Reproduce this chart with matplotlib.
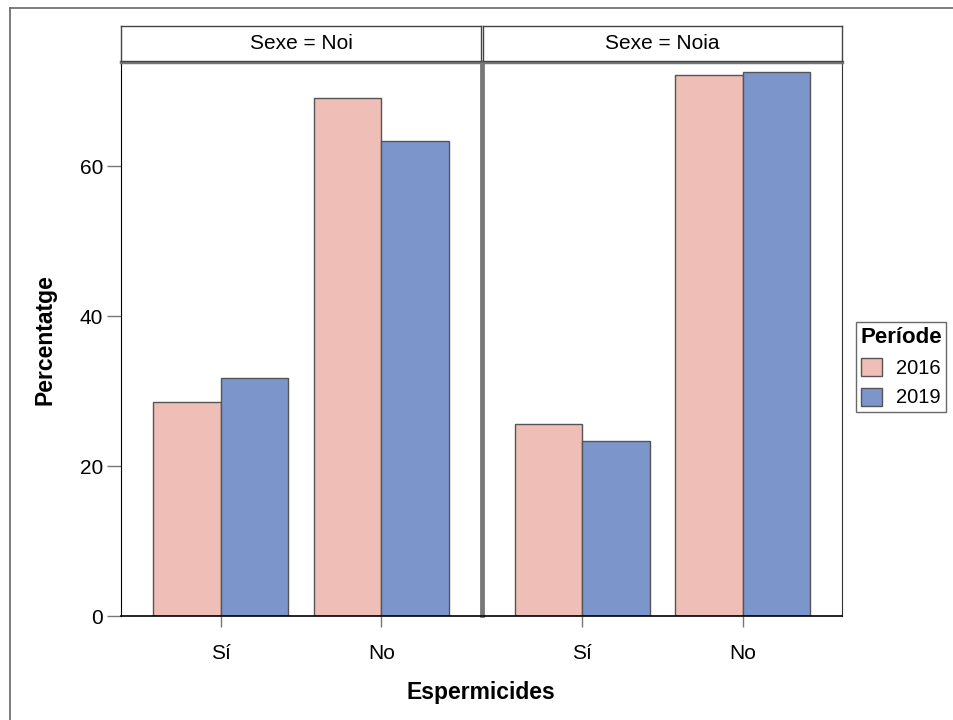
import matplotlib
matplotlib.use('Agg')
import matplotlib.pyplot as plt
from matplotlib.lines import Line2D
from matplotlib.patches import Patch
import numpy as np

plt.rcParams['font.family'] = ['Liberation Sans', 'DejaVu Sans']

categories = ['Sí', 'No']
panels = ['Sexe = Noi', 'Sexe = Noia']
years = ['2016', '2019']
noi_2016 = [28.5, 69.1]
noi_2019 = [31.7, 63.4]
noia_2016 = [25.6, 72.2]
noia_2019 = [23.3, 72.5]
yticks = [0, 20, 40, 60]

colors = ['#EEBEB7', '#7C96CB']
edge = '#555555'
W, H = 954, 720

fig = plt.figure(figsize=(W / 100, H / 100), dpi=100)

def px(x0, y0, x1, y1):
    # pixel box (top-left origin) -> figure fraction
    return [x0 / W, 1 - y1 / H, (x1 - x0) / W, (y1 - y0) / H]

# outer frame (top and left)
fig.add_artist(Line2D([10 / W, 1], [1 - 8 / H, 1 - 8 / H], color='#666666', lw=1.2))
fig.add_artist(Line2D([10 / W, 10 / W], [0, 1 - 8 / H], color='#666666', lw=1.2))

data = [(noi_2016, noi_2019), (noia_2016, noia_2019)]
boxes = [(121, 481), (483, 842)]
x = np.arange(len(categories))
bw = 0.42

for i, (vals, (xl, xr)) in enumerate(zip(data, boxes)):
    ax = fig.add_axes(px(xl, 62, xr, 616))
    ax.bar(x - bw / 2, vals[0], bw, color=colors[0], edgecolor=edge, linewidth=1)
    ax.bar(x + bw / 2, vals[1], bw, color=colors[1], edgecolor=edge, linewidth=1)
    ax.set_xlim(-0.62, 1.62)
    ax.set_ylim(0, 73.9)
    ax.set_xticks(x)
    ax.set_xticklabels(categories, fontsize=15)
    ax.tick_params(axis='x', length=8, color='#777777', width=1, pad=12)
    ax.set_yticks(yticks)
    if i == 0:
        ax.set_yticklabels([str(v) for v in yticks], fontsize=15)
        ax.tick_params(axis='y', length=10, color='#777777', width=1, pad=3)
        ax.spines['left'].set_color('black')
        ax.spines['right'].set_color('#777777')
        ax.spines['right'].set_linewidth(2)
    else:
        ax.tick_params(axis='y', left=False, labelleft=False)
        ax.spines['left'].set_color('#777777')
        ax.spines['left'].set_linewidth(2)
        ax.spines['right'].set_color('#333333')
    ax.spines['top'].set_color('#777777')
    ax.spines['top'].set_linewidth(2.5)
    ax.spines['bottom'].set_color('black')
    ax.spines['bottom'].set_linewidth(1.2)

    # strip header
    sx = fig.add_axes(px(xl, 26, xr, 61))
    sx.set_xticks([])
    sx.set_yticks([])
    for s in sx.spines.values():
        s.set_color('#444444')
        s.set_linewidth(1)
    sx.text(0.5, 0.5, panels[i], ha='center', va='center', fontsize=15, transform=sx.transAxes)

fig.text(45 / W, 1 - 340 / H, 'Percentatge', rotation=90, ha='center', va='center',
         fontsize=16.5, fontweight='bold')
fig.text(481 / W, 1 - 692 / H, 'Espermicides', ha='center', va='center',
         fontsize=16.5, fontweight='bold')

handles = [Patch(facecolor=c, edgecolor=edge, label=y) for c, y in zip(colors, years)]
leg = fig.legend(handles=handles, title='Període', loc='center left',
                 bbox_to_anchor=(856 / W, 1 - 367 / H), fontsize=14.5, title_fontsize=16,
                 frameon=True, fancybox=False, handlelength=1.0, handleheight=1.0,
                 handletextpad=0.7, borderpad=0.2, labelspacing=0.5, borderaxespad=0)
leg.get_frame().set_edgecolor('#444444')
leg.get_frame().set_linewidth(1)
leg.get_title().set_fontweight('bold')

fig.savefig('out.png', dpi=100)
